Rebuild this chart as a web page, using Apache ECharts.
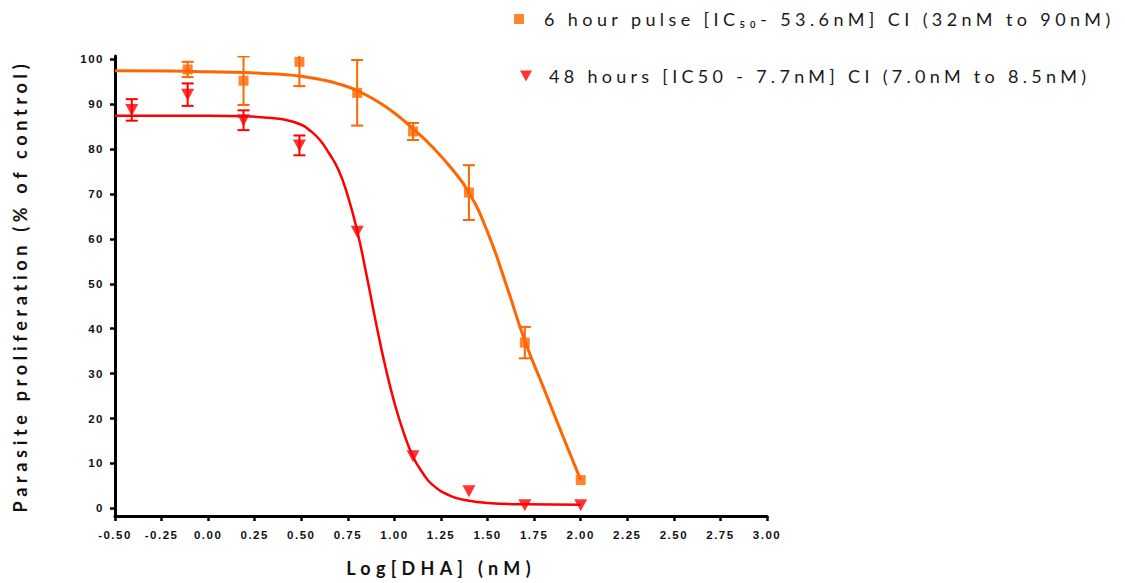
<!DOCTYPE html>
<html>
<head>
<meta charset="utf-8">
<script src="https://cdn.jsdelivr.net/npm/echarts@6/dist/echarts.min.js"></script>
<style>
  html, body { margin: 0; padding: 0; background: #fff; }
  #chart { width: 1125px; height: 583px; }
</style>
</head>
<body>
<div id="chart"></div>
<script>
// log10 of DHA dose (nM): 0.39 .. 100 nM, two-fold steps
const pulseDose = [-0.11, 0.19, 0.49, 0.80, 1.10, 1.40, 1.70, 2.00];
const pulseMean = [97.7, 95.2, 99.4, 92.5, 83.9, 70.3, 36.9, 6.3];
const pulseErr  = [1.7, 5.4, 5.4, 7.3, 1.9, 6.1, 3.5, 0];

const hoursDose = [-0.41, -0.11, 0.19, 0.49, 0.80, 1.10, 1.40, 1.70, 2.00];
const hoursMean = [88.7, 92.1, 86.4, 80.8, 61.6, 11.6, 3.8, 0.7, 0.7];
const hoursErr  = [2.4, 2.5, 2.2, 2.2, 0, 0, 0, 0, 0];

// fitted curves
const pulseCurveX = [-0.5, -0.2, 0.0, 0.2, 0.3, 0.4, 0.5, 0.6, 0.7, 0.8, 0.9, 1.0, 1.1, 1.2, 1.3, 1.4, 1.5, 1.6, 1.7, 1.8, 1.9, 2.0];
const pulseCurveY = [97.4, 97.35, 97.2, 97.0, 96.8, 96.6, 96.2, 95.5, 94.5, 93.0, 90.8, 88.0, 84.5, 80.6, 76.0, 70.3, 61.5, 49.8, 37.3, 26.9, 16.5, 6.3];
const hoursCurveX = [-0.5, 0.0, 0.2, 0.3, 0.4, 0.5, 0.55, 0.6, 0.65, 0.7, 0.75, 0.8, 0.85, 0.9, 0.95, 1.0, 1.05, 1.1, 1.15, 1.2, 1.3, 1.4, 1.5, 1.7, 2.0];
const hoursCurveY = [87.4, 87.4, 87.3, 87.0, 86.6, 85.4, 84.0, 82.0, 79.0, 75.3, 69.5, 61.8, 52.0, 41.5, 31.8, 23.5, 16.8, 11.5, 8.0, 5.4, 2.8, 1.7, 1.2, 0.9, 0.8];

const yTicks = [0, 10, 20, 30, 40, 50, 60, 70, 80, 90, 100];

const pulseName = '6 hour pulse [IC\u2085\u2080- 53.6nM] CI (32nM to 90nM)';
const hoursName = '48 hours [IC50 - 7.7nM] CI (7.0nM to 8.5nM)';
const ORANGE = '#ff6600';
const RED = '#ff0000';

const zip = (xs, ys) => xs.map((x, i) => [x, ys[i]]);
const errData = (xs, m, e) => xs.map((x, i) => [x, m[i] - e[i], m[i] + e[i]]).filter((d, i) => e[i] > 0);

function renderErrorBar(params, api) {
  const x = api.value(0);
  const top = api.coord([x, api.value(2)]);
  const bot = api.coord([x, api.value(1)]);
  const half = 6;
  const style = { stroke: api.visual('color'), lineWidth: 2 };
  return {
    type: 'group',
    children: [
      { type: 'line', shape: { x1: top[0], y1: top[1], x2: bot[0], y2: bot[1] }, style },
      { type: 'line', shape: { x1: top[0] - half, y1: top[1], x2: top[0] + half, y2: top[1] }, style },
      { type: 'line', shape: { x1: bot[0] - half, y1: bot[1], x2: bot[0] + half, y2: bot[1] }, style }
    ]
  };
}

const chart = echarts.init(document.getElementById('chart'), null, { renderer: 'svg' });

const legendText = { fontFamily: 'Lato', fontSize: 18, color: '#1a1a1a' };
const titleText = { fontFamily: 'Lato', fontWeight: 'bold', fontSize: 18, color: '#111' };

chart.setOption({
  animation: false,
  backgroundColor: '#fff',
  grid: { left: 115, right: 358, top: 56, bottom: 67, outerBoundsMode: 'none' },
  legend: [
    {
      data: [{ name: pulseName, icon: 'path://M0,0H10V10H0Z' }],
      left: 509, top: 5, itemWidth: 40, itemHeight: 10,
      textStyle: legendText, selectedMode: false
    },
    {
      data: [{ name: hoursName, icon: 'path://M0,0H12L6,11Z' }],
      left: 515, top: 62, itemWidth: 36, itemHeight: 11,
      textStyle: legendText, selectedMode: false
    }
  ],
  xAxis: {
    type: 'value',
    min: -0.5, max: 3.0, interval: 0.25,
    name: 'Log[DHA] (nM)',
    nameLocation: 'middle',
    nameGap: 43,
    nameTextStyle: titleText,
    axisLine: { onZero: false, lineStyle: { color: '#000', width: 3 } },
    axisTick: { length: 5, lineStyle: { color: '#000', width: 2.5 } },
    axisLabel: {
      margin: 13,
      fontFamily: 'Liberation Sans', fontWeight: 'bold', fontSize: 11.5, color: '#111',
      formatter: v => v.toFixed(2)
    },
    splitLine: { show: false }
  },
  yAxis: {
    type: 'value',
    min: -1.7, max: 100.7,
    name: 'Parasite proliferation (% of control)',
    nameLocation: 'middle',
    nameGap: 86,
    nameTextStyle: titleText,
    axisLine: { show: true, onZero: false, lineStyle: { color: '#000', width: 3 } },
    axisTick: { show: true, length: 5, customValues: yTicks, lineStyle: { color: '#000', width: 2.5 } },
    axisLabel: {
      margin: 11, customValues: yTicks,
      fontFamily: 'Liberation Sans', fontWeight: 'bold', fontSize: 11.5, color: '#111'
    },
    splitLine: { show: false }
  },
  series: [
    {
      name: 'pulse fit', type: 'line', data: zip(pulseCurveX, pulseCurveY),
      smooth: 0.5, showSymbol: false, lineStyle: { color: ORANGE, width: 3 }, z: 2
    },
    {
      name: 'hours fit', type: 'line', data: zip(hoursCurveX, hoursCurveY),
      smooth: 0.5, showSymbol: false, lineStyle: { color: RED, width: 2.5 }, z: 2
    },
    {
      name: 'pulse err', type: 'custom', renderItem: renderErrorBar, clip: true,
      itemStyle: { color: ORANGE }, data: errData(pulseDose, pulseMean, pulseErr), z: 3
    },
    {
      name: 'hours err', type: 'custom', renderItem: renderErrorBar, clip: true,
      itemStyle: { color: RED }, data: errData(hoursDose, hoursMean, hoursErr), z: 3
    },
    {
      name: pulseName, type: 'scatter', data: zip(pulseDose, pulseMean),
      symbol: 'rect', symbolSize: 10, itemStyle: { color: ORANGE }, z: 4
    },
    {
      name: hoursName, type: 'scatter', data: zip(hoursDose, hoursMean),
      symbol: 'triangle', symbolSize: [13, 12], symbolRotate: 180, itemStyle: { color: RED }, z: 4
    }
  ]
});

// the original export uses wide letter spacing on all text
function applySpacing() {
  document.querySelectorAll('#chart text').forEach(t => {
    const s = t.textContent;
    let ls = 1.5;
    if (s.indexOf('6 hour') === 0) ls = 4.4;
    else if (s.indexOf('48 hours') === 0) ls = 4.3;
    else if (s.indexOf('Log') === 0) ls = 5.3;
    else if (s.indexOf('Parasite') === 0) ls = 4.7;
    t.style.letterSpacing = ls + 'px';
  });
}
chart.on('finished', applySpacing);
applySpacing();
</script>
</body>
</html>
